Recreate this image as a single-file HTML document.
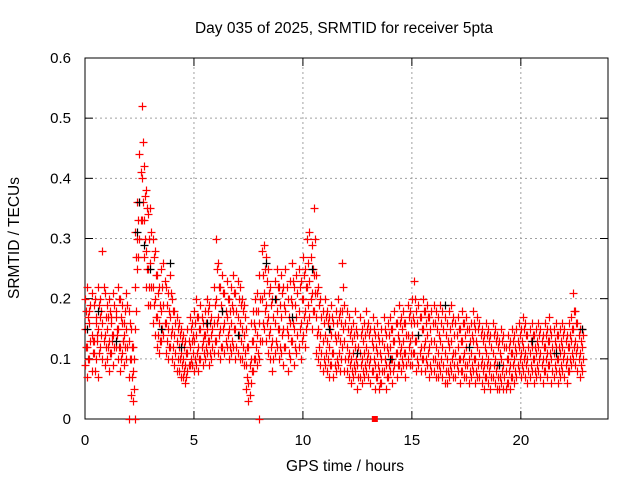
<!DOCTYPE html>
<html><head><meta charset="utf-8"><style>
html,body{margin:0;padding:0;background:#fff}
svg{display:block;font-family:"Liberation Sans",sans-serif}
</style></head><body>
<svg id="chart" width="640" height="480" viewBox="0 0 640 480">
<text x="344" y="33" font-size="15.5" text-anchor="middle">Day 035 of 2025, SRMTID for receiver 5pta</text>
<text x="345" y="471" font-size="15.5" text-anchor="middle">GPS time / hours</text>
<text transform="translate(19,238) rotate(-90)" font-size="15.5" text-anchor="middle">SRMTID / TECUs</text>
<g id="grid"></g><g id="axes"></g><g id="marks"></g>
</svg>
<script>
const yTicks=[0,0.1,0.2,0.3,0.4,0.5,0.6];
const yTickLabels=["0","0.1","0.2","0.3","0.4","0.5","0.6"];
const xTicks=[0,5,10,15,20];
const xTickLabels=["0","5","10","15","20"];
const hiVals=[.20,.22,.18,.21,.19,.17,.22,.20,.28,.21,
.19,.20,.17,.21,.18,.22,.20,.19,.16,.21,
.18,.15,.12,.31,.36,.44,.52,.42,.38,.34,
.35,.30,.28,.24,.22,.25,.26,.22,.21,.24,
.20,.18,.17,.16,.15,.14,.13,.15,.17,.16,
.18,.20,.17,.19,.16,.18,.20,.19,.17,.22,
.30,.26,.22,.24,.21,.23,.20,.22,.24,.21,
.23,.22,.20,.19,.15,.12,.16,.18,.20,.21,
.24,.28,.29,.27,.25,.22,.20,.23,.25,.22,
.24,.22,.25,.20,.23,.26,.22,.24,.25,.23,
.27,.25,.30,.31,.29,.35,.24,.22,.20,.18,
.20,.18,.17,.19,.16,.18,.20,.18,.26,.19,
.18,.17,.15,.16,.18,.14,.17,.15,.16,.18,
.16,.15,.17,.14,.16,.13,.15,.17,.14,.16,
.17,.15,.18,.16,.19,.17,.18,.16,.19,.18,
.20,.23,.18,.19,.17,.20,.18,.19,.17,.18,
.19,.18,.17,.19,.18,.17,.16,.18,.19,.17,
.16,.17,.15,.18,.16,.17,.15,.16,.18,.15,
.17,.16,.15,.14,.16,.15,.14,.16,.15,.14,
.13,.15,.14,.12,.14,.13,.15,.14,.15,.16,
.15,.17,.16,.14,.15,.16,.14,.15,.16,.15,
.14,.16,.15,.17,.14,.15,.16,.14,.15,.16,
.15,.14,.16,.17,.21,.18,.16,.15,.15];
const upperMidVals=[.18,.17,.19,.13,.20,.14,.19,.18,.22,.17,
.17,.18,.14,.19,.15,.20,.17,.13,.18,.19,
.16,.12,.10,.27,.33,.41,.46,.37,.35,.30,
.31,.27,.24,.21,.19,.22,.23,.19,.18,.21,
.18,.16,.15,.14,.13,.12,.11,.13,.15,.14,
.16,.17,.15,.17,.14,.16,.18,.16,.15,.19,
.25,.22,.19,.21,.18,.20,.18,.19,.21,.18,
.20,.19,.18,.17,.12,.09,.13,.16,.18,.18,
.20,.24,.25,.23,.21,.19,.17,.20,.22,.19,
.21,.19,.22,.17,.20,.23,.19,.21,.22,.20,
.24,.22,.26,.27,.25,.30,.21,.19,.17,.16,
.17,.16,.15,.17,.14,.16,.17,.16,.22,.16,
.15,.14,.13,.14,.15,.12,.14,.13,.14,.15,
.14,.13,.15,.12,.14,.11,.13,.15,.12,.14,
.15,.13,.16,.14,.16,.15,.16,.14,.17,.16,
.17,.20,.16,.17,.15,.18,.16,.17,.15,.16,
.16,.15,.14,.16,.15,.14,.13,.15,.16,.14,
.14,.15,.13,.16,.14,.15,.13,.14,.16,.13,
.15,.14,.13,.12,.14,.13,.12,.14,.13,.12,
.11,.13,.12,.10,.12,.11,.13,.12,.13,.14,
.13,.15,.14,.12,.13,.14,.12,.13,.14,.13,
.12,.14,.13,.15,.12,.13,.14,.12,.13,.14,
.13,.12,.14,.15,.18,.16,.14,.13,.14];
const midVals=[.15,.12,.16,.14,.13,.16,.15,.17,.16,.14,
.15,.13,.16,.14,.17,.15,.12,.16,.14,.15,
.13,.10,.08,.22,.30,.36,.40,.33,.28,.25,
.26,.22,.20,.17,.16,.18,.19,.16,.15,.17,
.15,.14,.13,.12,.11,.10,.09,.11,.12,.13,
.13,.14,.12,.15,.13,.14,.15,.13,.14,.16,
.20,.17,.15,.18,.16,.17,.15,.16,.18,.15,
.17,.16,.15,.14,.09,.06,.10,.13,.15,.14,
.16,.20,.21,.19,.17,.15,.13,.16,.18,.15,
.17,.15,.18,.14,.16,.19,.15,.17,.18,.16,
.20,.18,.22,.23,.21,.24,.17,.15,.14,.13,
.14,.13,.12,.14,.11,.13,.14,.13,.18,.13,
.12,.11,.10,.11,.12,.09,.11,.10,.11,.12,
.11,.10,.12,.09,.11,.08,.10,.12,.09,.11,
.12,.10,.13,.11,.13,.12,.13,.11,.14,.13,
.14,.16,.13,.14,.12,.15,.13,.14,.12,.13,
.13,.12,.11,.13,.12,.11,.10,.12,.13,.11,
.11,.12,.10,.13,.11,.12,.10,.11,.13,.10,
.12,.11,.10,.09,.11,.10,.09,.11,.10,.09,
.09,.10,.09,.08,.10,.09,.11,.10,.11,.12,
.11,.12,.11,.10,.11,.12,.10,.11,.12,.11,
.10,.12,.11,.13,.10,.11,.12,.10,.11,.12,
.11,.10,.12,.13,.15,.13,.12,.11,.12];
const lowerMidVals=[.12,.10,.13,.11,.08,.13,.11,.14,.13,.12,
.12,.11,.13,.12,.14,.12,.10,.13,.12,.12,
.10,.07,.05,.18,.27,.33,.36,.30,.25,.22,
.22,.19,.17,.14,.13,.15,.16,.13,.12,.14,
.12,.11,.10,.10,.09,.08,.07,.09,.10,.11,
.10,.11,.10,.12,.11,.12,.13,.11,.12,.13,
.16,.14,.12,.15,.13,.14,.12,.13,.15,.12,
.14,.13,.12,.11,.07,.04,.08,.10,.12,.11,
.13,.16,.18,.16,.14,.12,.10,.13,.15,.12,
.14,.12,.15,.11,.13,.16,.12,.14,.15,.13,
.17,.15,.19,.20,.18,.21,.14,.12,.11,.10,
.11,.10,.09,.11,.09,.10,.11,.10,.15,.10,
.10,.09,.08,.09,.10,.07,.09,.08,.09,.10,
.09,.08,.10,.07,.09,.06,.08,.10,.07,.09,
.10,.08,.11,.09,.11,.10,.11,.09,.12,.11,
.11,.13,.10,.11,.10,.12,.10,.11,.09,.10,
.10,.09,.09,.10,.09,.08,.08,.09,.10,.09,
.09,.10,.08,.10,.09,.09,.08,.09,.10,.08,
.09,.09,.08,.07,.09,.08,.07,.09,.08,.07,
.07,.08,.07,.06,.08,.07,.09,.08,.09,.10,
.09,.10,.09,.08,.09,.10,.08,.09,.10,.09,
.08,.10,.09,.11,.08,.09,.10,.08,.09,.10,
.09,.08,.10,.11,.12,.11,.10,.09,.10];
const loVals=[.09,.07,.10,.08,.11,.10,.07,.12,.10,.09,
.10,.08,.11,.09,.12,.10,.08,.11,.09,.10,
.07,.04,.03,.15,.25,.30,.33,.27,.22,.19,
.19,.16,.14,.12,.11,.13,.14,.11,.10,.12,
.10,.09,.08,.08,.07,.07,.06,.08,.09,.09,
.08,.09,.08,.10,.09,.10,.11,.09,.10,.11,
.13,.11,.10,.12,.11,.12,.10,.11,.12,.10,
.11,.10,.10,.09,.05,.03,.06,.08,.10,.09,
.10,.13,.15,.13,.11,.10,.08,.11,.12,.10,
.11,.09,.12,.08,.10,.13,.09,.11,.12,.10,
.14,.12,.16,.17,.15,.18,.11,.10,.09,.08,
.09,.08,.07,.09,.07,.08,.09,.08,.12,.08,
.08,.07,.06,.07,.08,.05,.07,.06,.07,.08,
.07,.06,.08,.05,.07,.05,.06,.08,.05,.07,
.08,.06,.09,.07,.09,.08,.09,.07,.10,.09,
.09,.11,.08,.09,.08,.10,.08,.09,.07,.08,
.08,.07,.07,.08,.07,.06,.06,.07,.08,.07,
.07,.08,.06,.08,.07,.07,.06,.07,.08,.06,
.07,.07,.06,.05,.07,.06,.05,.07,.06,.05,
.05,.06,.05,.05,.06,.05,.07,.06,.07,.08,
.07,.08,.07,.06,.07,.08,.06,.07,.08,.07,
.06,.08,.07,.09,.06,.07,.08,.06,.07,.08,
.07,.06,.08,.09,.10,.09,.08,.07,.08];
const blackTimes=[0.1,0.6,1.4,2.4,2.5,2.7,3.0,3.5,3.9,4.4,5.6,6.3,7.0,8.3,8.7,9.5,10.4,11.2,12.5,14.0,15.3,16.5,17.6,19.0,20.5,21.6,22.8];
const blackVals=[0.15,0.18,0.13,0.31,0.36,0.29,0.25,0.15,0.26,0.12,0.16,0.18,0.14,0.26,0.2,0.17,0.25,0.15,0.11,0.1,0.14,0.19,0.12,0.09,0.13,0.11,0.15];
const zeroTimes=[2.0,2.3,8.0];
const NS='http://www.w3.org/2000/svg';
const X0=85,X1=608,Y0=419,Y1=58;
const xs=t=>X0+t/24*(X1-X0);
const ys=v=>Y0-v/0.6*(Y0-Y1);
const grid=document.getElementById('grid'),axes=document.getElementById('axes'),marks=document.getElementById('marks');
function mk(tag,attrs,parent){const e=document.createElementNS(NS,tag);for(const k in attrs)e.setAttribute(k,attrs[k]);parent.appendChild(e);return e;}
yTicks.forEach((v,i)=>{const y=ys(v);
 if(i>0&&i<yTicks.length-1){const g=mk('line',{x1:X0,x2:X1,y1:y,y2:y,stroke:'#a0a0a0','stroke-dasharray':'2,3'},grid);
 
 }
 mk('line',{x1:X0,x2:X0+8,y1:y,y2:y,stroke:'#000'},axes);
 mk('line',{x1:X1,x2:X1-8,y1:y,y2:y,stroke:'#000'},axes);
 const t=mk('text',{x:X0-14,y:y+5,'font-size':15,'text-anchor':'end'},axes);t.textContent=yTickLabels[i];
 
 
});
xTicks.forEach((v,i)=>{const x=xs(v);
 if(i>0){const g=mk('line',{x1:x,x2:x,y1:Y0,y2:Y1,stroke:'#a0a0a0','stroke-dasharray':'2,3'},grid);
 
 }
 mk('line',{x1:x,x2:x,y1:Y0,y2:Y0-8,stroke:'#000'},axes);
 mk('line',{x1:x,x2:x,y1:Y1,y2:Y1+8,stroke:'#000'},axes);
 const t=mk('text',{x:x,y:Y0+26,'font-size':15,'text-anchor':'middle'},axes);t.textContent=xTickLabels[i];
 
 
});
const frame=mk('rect',{x:X0,y:Y1,width:X1-X0,height:Y0-Y1,fill:'none',stroke:'#000'},axes);


function plus(t,v,color,name){const x=Math.round(xs(t))+0.5,y=Math.round(ys(v))+0.5;
 const p=mk('path',{d:`M${x-4},${y}H${x+4}M${x},${y-4}V${y+4}`,stroke:color,'stroke-width':1.2,fill:'none'},marks);
 
 }
[hiVals,midVals,loVals].forEach(arr=>arr.forEach((v,i)=>plus(i*0.1,v,'#ff0000','srmtid-point')));
[upperMidVals,lowerMidVals].forEach(arr=>arr.forEach((v,i)=>plus(i*0.1+0.05,v,'#ff0000','srmtid-point')));
blackTimes.forEach((t,i)=>plus(t,blackVals[i],'#000','srmtid-point-black'));
zeroTimes.forEach(t=>plus(t,0,'#ff0000','zero-point'));
const sq=mk('rect',{x:xs(13.3)-3,y:Y0-3,width:6,height:6,fill:'#ff0000'},marks);


</script>
</body></html>
